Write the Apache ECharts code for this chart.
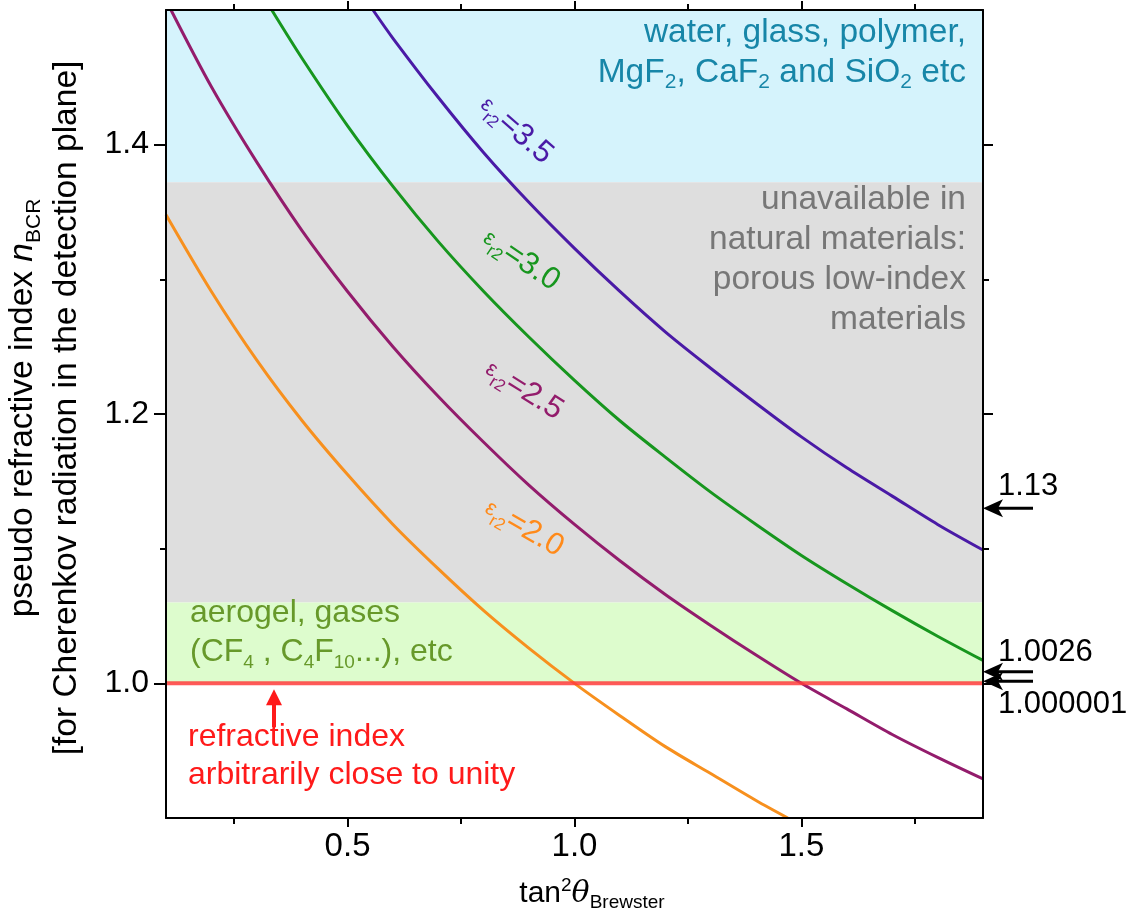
<!DOCTYPE html>
<html><head><meta charset="utf-8">
<script src="https://cdn.jsdelivr.net/npm/echarts@6/dist/echarts.min.js"></script>
<style>html,body{margin:0;padding:0;background:#fff}#c{width:1138px;height:924px}</style>
</head><body><div id="c"></div>
<script>
const FONT = "'Liberation Sans', Arial, Helvetica, sans-serif";
const xMin = 0.1, xMax = 1.9, yMin = 0.9, yMax = 1.5;
const xMajorTicks = [0.5, 1.0, 1.5];
const xMinorTicks = [0.25, 0.75, 1.25, 1.75];
const yMajorTicks = [1.0, 1.2, 1.4];
const yMinorTicks = [1.1, 1.3];

const eps20 = [[0.1,1.348],[0.2,1.291],[0.3,1.240],[0.4,1.195],[0.5,1.155],[0.6,1.118],[0.7,1.085],[0.8,1.054],[0.9,1.026],[1.0,1.000],[1.1,0.976],[1.2,0.953],[1.3,0.933],[1.4,0.913],[1.47,0.900]];
const eps25 = [[0.111,1.5],[0.2,1.443],[0.3,1.387],[0.4,1.336],[0.5,1.291],[0.6,1.250],[0.7,1.213],[0.8,1.179],[0.9,1.147],[1.0,1.118],[1.1,1.091],[1.2,1.066],[1.3,1.043],[1.4,1.021],[1.5,1.000],[1.6,0.981],[1.7,0.962],[1.8,0.945],[1.9,0.929]];
const eps30 = [[0.333,1.5],[0.4,1.464],[0.5,1.414],[0.6,1.369],[0.7,1.328],[0.8,1.291],[0.9,1.257],[1.0,1.225],[1.1,1.195],[1.2,1.168],[1.3,1.142],[1.4,1.118],[1.5,1.095],[1.6,1.074],[1.7,1.054],[1.8,1.035],[1.9,1.017]];
const eps35 = [[0.556,1.5],[0.6,1.479],[0.7,1.435],[0.8,1.394],[0.9,1.357],[1.0,1.323],[1.1,1.291],[1.2,1.261],[1.3,1.234],[1.4,1.208],[1.5,1.183],[1.6,1.160],[1.7,1.139],[1.8,1.118],[1.9,1.099]];

const bandHighIndex = [1.372, 1.5];
const bandUnavailable = [1.06, 1.372];
const bandLowIndex = [1.0, 1.06];
const unityLevel = 1.000001;
const markerValues = [1.13, 1.0026, 1.000001];
const markerLabels = ['1.13', '1.0026', '1.000001'];

const chart = echarts.init(document.getElementById('c'), null, {renderer: 'canvas'});

function xAx(pos, ticks, len, labels, line) {
  return {
    type: 'value', position: pos, min: xMin, max: xMax, z: 10,
    splitLine: {show: false},
    axisLine: {show: line, onZero: false, lineStyle: {color: '#000', width: 2}},
    axisTick: {show: true, customValues: ticks, length: len, lineStyle: {color: '#000', width: 2}},
    axisLabel: {show: labels, customValues: ticks, formatter: v => v.toFixed(1), color: '#000', fontSize: 33, fontFamily: FONT, margin: 12}
  };
}
function yAx(pos, ticks, len, labels, line) {
  return {
    type: 'value', position: pos, min: yMin, max: yMax, z: 10,
    splitLine: {show: false},
    axisLine: {show: line, onZero: false, lineStyle: {color: '#000', width: 2}},
    axisTick: {show: true, customValues: ticks, length: len, lineStyle: {color: '#000', width: 2}},
    axisLabel: {show: labels, customValues: ticks, formatter: v => v.toFixed(1), color: '#000', fontSize: 32, fontFamily: FONT, margin: 17}
  };
}

function curve(name, data, color) {
  return {
    name, type: 'line', data, xAxisIndex: 0, yAxisIndex: 0,
    symbol: 'none', showSymbol: false, smooth: 0.3, clip: true, z: 4,
    lineStyle: {color, width: 3}
  };
}

function band(range, color) {
  return [{yAxis: range[0], itemStyle: {color}}, {yAxis: range[1]}];
}

const option = {
  animation: false,
  backgroundColor: '#fff',
  grid: {left: 166, top: 10, right: 155, bottom: 106, containLabel: false},
  xAxis: [
    xAx('bottom', xMajorTicks, 9, true, true),
    xAx('bottom', xMinorTicks, 6, false, false),
    xAx('top', xMajorTicks, 9, false, true),
    xAx('top', xMinorTicks, 6, false, false)
  ],
  yAxis: [
    yAx('left', yMajorTicks, 12, true, true),
    yAx('left', yMinorTicks, 6, false, false),
    yAx('right', yMajorTicks, 10, false, true),
    yAx('right', yMinorTicks, 6, false, false)
  ],
  series: [
    {
      name: 'unity', type: 'line', xAxisIndex: 0, yAxisIndex: 0, z: 6,
      data: [[xMin, unityLevel], [xMax, unityLevel]],
      symbol: 'none', lineStyle: {color: 'rgba(255,60,60,0.85)', width: 4},
      markArea: {
        silent: true,
        data: [
          band(bandHighIndex, '#d5f3fc'),
          band(bandUnavailable, '#dedede'),
          band(bandLowIndex, '#ddfccd')
        ]
      }
    },
    curve('2.0', eps20, '#f7901e'),
    curve('2.5', eps25, '#931c6c'),
    curve('3.0', eps30, '#17961e'),
    curve('3.5', eps35, '#4a1aa6')
  ]
};
chart.setOption(option);

function txt(x, y, text, fill, opts) {
  opts = opts || {};
  const align = opts.align || 'left';
  const va = opts.va || 'middle';
  return {
    type: 'text', x, y, z: 20, rotation: opts.rotation || 0, silent: true,
    style: Object.assign({
      text, fill, fontSize: opts.fontSize || 32, fontFamily: FONT,
      align, textAlign: align, verticalAlign: va, textVerticalAlign: va,
      lineHeight: opts.lineHeight || 40, rich: opts.rich || {}
    }, opts.extra || {})
  };
}

const subRich = (fs, lh) => ({fontSize: fs, lineHeight: lh, verticalAlign: 'bottom', fontFamily: FONT});

function arrowLeft(xTip, y, len, color) {
  return [
    {type: 'line', z: 20, silent: true, shape: {x1: xTip + 6, y1: y, x2: xTip + len, y2: y}, style: {stroke: color, lineWidth: 3}},
    {type: 'polygon', z: 20, silent: true, shape: {points: [[xTip, y], [xTip + 20, y - 9], [xTip + 15, y], [xTip + 20, y + 9]]}, style: {fill: color}}
  ];
}

function curveLabel(x, y, deg, val, color, epsColor) {
  return txt(x, y, '{e|ε}{r|r2}{v|=' + val + '}', color, {
    align: 'center', va: 'middle', rotation: -deg * Math.PI / 180, lineHeight: 36,
    rich: {
      e: {fontSize: 22, lineHeight: 36, fill: epsColor || color, fontFamily: FONT},
      r: {fontSize: 17, lineHeight: 14, verticalAlign: 'bottom', fill: epsColor || color, fontFamily: FONT},
      v: {fontSize: 31, lineHeight: 36, fill: color, fontFamily: FONT}
    }
  });
}

function draw() {
  const px = (x, y) => chart.convertToPixel({xAxisIndex: 0, yAxisIndex: 0}, [x, y]);
  const right = px(xMax, 1)[0];
  const els = [];
  // band annotations
  els.push(txt(966, 13, 'water, glass, polymer,\nMgF{s|2}, CaF{s|2} and SiO{s|2} etc', '#1786a8',
    {align: 'right', va: 'top', lineHeight: 40, fontSize: 33.5, rich: {s: Object.assign(subRich(21, 16), {fill: '#1786a8'})}}));
  els.push(txt(966, 180, 'unavailable in\nnatural materials:\nporous low-index\nmaterials', '#777777',
    {align: 'right', va: 'top', lineHeight: 40, fontSize: 33.5}));
  els.push(txt(190, 594, 'aerogel, gases\n(CF{s|4} , C{s|4}F{s|10}...), etc', '#67992a',
    {align: 'left', va: 'top', lineHeight: 39, rich: {s: Object.assign(subRich(19, 16), {fill: '#67992a'})}}));
  els.push(txt(188, 718, 'refractive index\narbitrarily close to unity', '#ff1a1a',
    {align: 'left', va: 'top', lineHeight: 38}));
  // red upward arrow
  const yU = px(xMin, unityLevel)[1];
  els.push({type: 'line', z: 20, silent: true, shape: {x1: 274, y1: yU + 44, x2: 274, y2: yU + 16}, style: {stroke: '#ff1a1a', lineWidth: 4}});
  els.push({type: 'polygon', z: 20, silent: true, shape: {points: [[274, yU + 6], [266, yU + 22], [282, yU + 22]]}, style: {fill: '#ff1a1a'}});
  // curve labels
  els.push(curveLabel(516, 130, 41, '3.5', '#4a1aa6'));
  els.push(curveLabel(521, 260, 34, '3.0', '#17961e'));
  els.push(curveLabel(524, 390, 32, '2.5', '#931c6c'));
  els.push(curveLabel(524, 528, 30, '2.0', '#ff8a1a'));
  // right-side markers
  const y0 = px(xMax, markerValues[0])[1];
  const y1 = px(xMax, markerValues[1])[1];
  const y2 = px(xMax, markerValues[2])[1];
  arrowLeft(right, y0, 50, '#000').forEach(e => els.push(e));
  arrowLeft(right, y1 - 8, 50, '#000').forEach(e => els.push(e));
  arrowLeft(right, y2 - 2, 50, '#000').forEach(e => els.push(e));
  els.push(txt(998, y0 - 22, markerLabels[0], '#000', {fontSize: 31}));
  els.push(txt(998, y1 - 27, markerLabels[1], '#000', {fontSize: 31}));
  els.push(txt(998, y2 + 21, markerLabels[2], '#000', {fontSize: 31}));
  // axis titles
  els.push(txt(45, 408, 'pseudo refractive index {i|n}{s|BCR}\n[for Cherenkov radiation in the detection plane]', '#000',
    {align: 'center', va: 'middle', rotation: Math.PI / 2, lineHeight: 44, fontSize: 33.5,
     rich: {i: {fontSize: 33.5, lineHeight: 44, fontStyle: 'italic', fontFamily: FONT}, s: subRich(21, 18)}}));
  els.push(txt(592, 894, 'tan{p|2}{i|θ}{s|Brewster}', '#000',
    {align: 'center', va: 'middle', lineHeight: 36, fontSize: 30,
     rich: {p: {fontSize: 19, lineHeight: 18, verticalAlign: 'top', fontFamily: FONT},
            i: {fontSize: 30, lineHeight: 36, fontStyle: 'italic', fontFamily: 'DejaVu Serif, serif'},
            s: subRich(19, 16)}}));
  chart.setOption({graphic: {elements: els}});
}
draw();
</script>
</body></html>
